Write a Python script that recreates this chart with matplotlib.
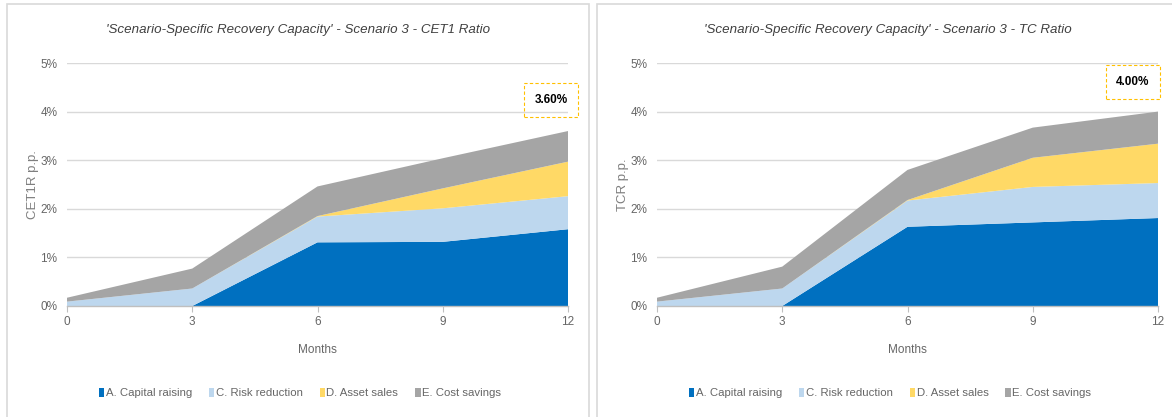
import matplotlib
matplotlib.use("Agg")
import matplotlib.pyplot as plt
from matplotlib.patches import Rectangle, Patch
from matplotlib.ticker import FuncFormatter

plt.rcParams['font.family'] = ['Liberation Sans Narrow', 'Liberation Sans', 'DejaVu Sans']

months = [0, 3, 6, 9, 12]
series_names = ["A. Capital raising", "C. Risk reduction", "D. Asset sales", "E. Cost savings"]
colors = ["#0070C0", "#BDD7EE", "#FFD966", "#A5A5A5"]

cet1_capital = [0.00, 0.00, 1.31, 1.32, 1.58]
cet1_risk = [0.09, 0.36, 0.53, 0.69, 0.68]
cet1_assets = [0.00, 0.00, 0.01, 0.41, 0.71]
cet1_cost = [0.08, 0.41, 0.61, 0.62, 0.63]
cet1_total_label = "3.60%"

tc_capital = [0.00, 0.00, 1.63, 1.72, 1.81]
tc_risk = [0.09, 0.36, 0.54, 0.73, 0.72]
tc_assets = [0.00, 0.00, 0.01, 0.60, 0.81]
tc_cost = [0.08, 0.45, 0.62, 0.62, 0.66]
tc_total_label = "4.00%"

titles = ["'Scenario-Specific Recovery Capacity' - Scenario 3 - CET1 Ratio",
          "'Scenario-Specific Recovery Capacity' - Scenario 3 - TC Ratio"]
ylabels = ["CET1R p.p.", "TCR p.p."]
yticks = [0, 1, 2, 3, 4, 5]
xticks = [0, 3, 6, 9, 12]

W, H = 1172, 417
fig = plt.figure(figsize=(W / 100, H / 100), dpi=100)

def fx(px):
    return px / W

def fy(py):
    return 1 - py / H

# panel borders
for x0, x1 in [(7, 589), (597, 1185)]:
    fig.patches.append(Rectangle((fx(x0), fy(430)), fx(x1 - x0), (430 - 4) / H,
                                 transform=fig.transFigure, fill=False,
                                 edgecolor="#D9D9D9", linewidth=1.2))

panels = [
    (67, [cet1_capital, cet1_risk, cet1_assets, cet1_cost], cet1_total_label, (551, 100), 298),
    (657, [tc_capital, tc_risk, tc_assets, tc_cost], tc_total_label, (1133, 82), 888),
]

grey_txt = "#666666"
for i, (left_px, data, lab, box_xy, cx) in enumerate(panels):
    ax = fig.add_axes([fx(left_px), fy(306), fx(501), (306 - 63) / H])
    ax.stackplot(months, *data, colors=colors, linewidth=0, labels=series_names)
    ax.set_xlim(0, 12)
    ax.set_ylim(0, 5)
    ax.set_xticks(xticks)
    ax.set_yticks(yticks)
    ax.yaxis.set_major_formatter(FuncFormatter(lambda v, p: f"{int(v)}%"))
    for s in ["top", "right", "left"]:
        ax.spines[s].set_visible(False)
    ax.spines["bottom"].set_color("#BFBFBF")
    ax.spines["bottom"].set_linewidth(1)
    ax.set_axisbelow(True)
    ax.grid(axis="y", color="#D9D9D9", linewidth=1)
    ax.tick_params(axis="y", length=0, labelsize=8.5, labelcolor=grey_txt, pad=7)
    ax.tick_params(axis="x", length=4, color="#BFBFBF", labelsize=8.5, labelcolor=grey_txt, pad=3)
    ax.set_xlabel("Months", fontsize=8.5, color=grey_txt, labelpad=12)
    ax.set_ylabel(ylabels[i], fontsize=9.5, color="#7F7F7F", labelpad=1,
                  family=['Liberation Sans', 'DejaVu Sans'])
    fig.text(fx(cx), fy(30), titles[i], ha="center", va="center", fontsize=9.6,
             style="italic", color="#404040")
    # annotation box
    bx, by = box_xy
    fig.patches.append(Rectangle((fx(bx - 27), fy(by + 17)), fx(54), 34 / H,
                                 transform=fig.transFigure, fill=False,
                                 edgecolor="#FFC000", linewidth=0.8, linestyle=(0, (3, 2))))
    fig.text(fx(bx), fy(by), lab, ha="center", va="center", fontsize=8.5,
             fontweight="bold", color="#000000")
    handles = [Patch(facecolor=c, edgecolor="none") for c in colors]
    fig.legend(handles, series_names, loc="center", bbox_to_anchor=(fx(cx + 2), fy(393)),
               ncol=4, frameon=False, fontsize=8.2, handlelength=0.45, handleheight=0.9,
               handletextpad=0.15, columnspacing=1.5, labelcolor=grey_txt)

fig.savefig("out.png", dpi=100)
